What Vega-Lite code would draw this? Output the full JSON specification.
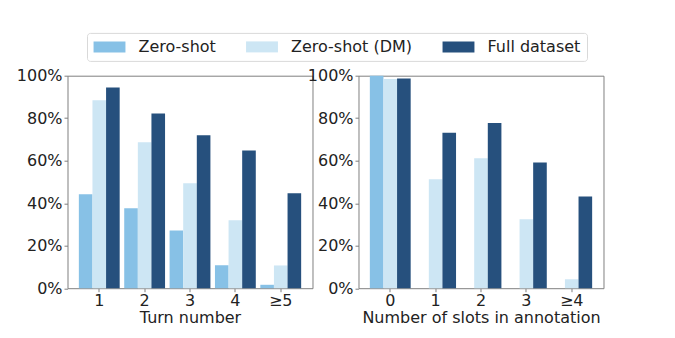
{
  "$schema": "https://vega.github.io/schema/vega-lite/v6.json",
  "padding": {"left": 15.5, "top": 31.7, "right": 5, "bottom": 5},
  "spacing": -7,
  "config": {
    "font": "DejaVu Sans",
    "view": {"stroke": "#808080", "strokeWidth": 1},
    "axis": {"domain": false, "grid": false, "tickColor": "#808080", "tickSize": 3.5, "labelFontSize": 16, "titleFontSize": 16, "labelColor": "#222222", "titleColor": "#222222", "titleFontWeight": "normal", "labelPadding": 2, "titlePadding": 2},
    "axisX": {"labelPadding": 0.7, "titlePadding": 1.5}
  },
  "data": {"values": [
    {"panel": "turn", "category": "1", "series": "Zero-shot", "value": 0.442},
    {"panel": "turn", "category": "1", "series": "Zero-shot (DM)", "value": 0.885},
    {"panel": "turn", "category": "1", "series": "Full dataset", "value": 0.944},
    {"panel": "turn", "category": "2", "series": "Zero-shot", "value": 0.376},
    {"panel": "turn", "category": "2", "series": "Zero-shot (DM)", "value": 0.687},
    {"panel": "turn", "category": "2", "series": "Full dataset", "value": 0.822},
    {"panel": "turn", "category": "3", "series": "Zero-shot", "value": 0.271},
    {"panel": "turn", "category": "3", "series": "Zero-shot (DM)", "value": 0.494},
    {"panel": "turn", "category": "3", "series": "Full dataset", "value": 0.72},
    {"panel": "turn", "category": "4", "series": "Zero-shot", "value": 0.108},
    {"panel": "turn", "category": "4", "series": "Zero-shot (DM)", "value": 0.32},
    {"panel": "turn", "category": "4", "series": "Full dataset", "value": 0.648},
    {"panel": "turn", "category": "≥5", "series": "Zero-shot", "value": 0.016},
    {"panel": "turn", "category": "≥5", "series": "Zero-shot (DM)", "value": 0.107},
    {"panel": "turn", "category": "≥5", "series": "Full dataset", "value": 0.447},
    {"panel": "slots", "category": "0", "series": "Zero-shot", "value": 1.0},
    {"panel": "slots", "category": "0", "series": "Zero-shot (DM)", "value": 0.984},
    {"panel": "slots", "category": "0", "series": "Full dataset", "value": 0.987},
    {"panel": "slots", "category": "1", "series": "Zero-shot", "value": 0},
    {"panel": "slots", "category": "1", "series": "Zero-shot (DM)", "value": 0.513},
    {"panel": "slots", "category": "1", "series": "Full dataset", "value": 0.732},
    {"panel": "slots", "category": "2", "series": "Zero-shot", "value": 0},
    {"panel": "slots", "category": "2", "series": "Zero-shot (DM)", "value": 0.611},
    {"panel": "slots", "category": "2", "series": "Full dataset", "value": 0.777},
    {"panel": "slots", "category": "3", "series": "Zero-shot", "value": 0},
    {"panel": "slots", "category": "3", "series": "Zero-shot (DM)", "value": 0.325},
    {"panel": "slots", "category": "3", "series": "Full dataset", "value": 0.592},
    {"panel": "slots", "category": "≥4", "series": "Zero-shot", "value": 0},
    {"panel": "slots", "category": "≥4", "series": "Zero-shot (DM)", "value": 0.042},
    {"panel": "slots", "category": "≥4", "series": "Full dataset", "value": 0.432}
  ]},
  "hconcat": [
    {
      "width": 245,
      "height": 212.5,
      "transform": [{"filter": "datum.panel === 'turn'"}],
      "mark": {"type": "bar"},
      "encoding": {
        "x": {"field": "category", "type": "nominal", "sort": ["1", "2", "3", "4", "≥5"], "scale": {"paddingInner": 0.1, "paddingOuter": 0.25}, "axis": {"labelAngle": 0, "title": "Turn number"}},
        "xOffset": {"field": "series", "type": "nominal", "sort": ["Zero-shot", "Zero-shot (DM)", "Full dataset"], "scale": {"paddingInner": 0, "paddingOuter": 0}},
        "y": {"field": "value", "type": "quantitative", "scale": {"domain": [0, 1], "nice": false}, "axis": {"format": ".0%", "values": [0, 0.2, 0.4, 0.6, 0.8, 1], "title": null}},
        "color": {"field": "series", "type": "nominal", "scale": {"domain": ["Zero-shot", "Zero-shot (DM)", "Full dataset"], "range": ["#87c1e6", "#cde6f4", "#26507d"]},
          "legend": {"orient": "none", "legendX": 19.5, "legendY": -42.8, "direction": "horizontal", "title": null, "symbolType": "M-2.9,-1H2.9V1H-2.9Z", "symbolSize": 121, "symbolStrokeWidth": 0, "symbolOffset": 8.5, "labelFontSize": 16, "labelColor": "#222222", "labelOffset": 21, "columnPadding": 29.5, "strokeColor": "#d9d9d9", "fillColor": "white", "padding": 6, "cornerRadius": 3}}
      }
    },
    {
      "width": 245,
      "height": 212.5,
      "transform": [{"filter": "datum.panel === 'slots'"}],
      "mark": {"type": "bar"},
      "encoding": {
        "x": {"field": "category", "type": "nominal", "sort": ["0", "1", "2", "3", "≥4"], "scale": {"paddingInner": 0.1, "paddingOuter": 0.25}, "axis": {"labelAngle": 0, "title": "Number of slots in annotation"}},
        "xOffset": {"field": "series", "type": "nominal", "sort": ["Zero-shot", "Zero-shot (DM)", "Full dataset"], "scale": {"paddingInner": 0, "paddingOuter": 0}},
        "y": {"field": "value", "type": "quantitative", "scale": {"domain": [0, 1], "nice": false}, "axis": {"format": ".0%", "values": [0, 0.2, 0.4, 0.6, 0.8, 1], "title": null}},
        "color": {"field": "series", "type": "nominal", "scale": {"domain": ["Zero-shot", "Zero-shot (DM)", "Full dataset"], "range": ["#87c1e6", "#cde6f4", "#26507d"]}}
      }
    }
  ]
}
